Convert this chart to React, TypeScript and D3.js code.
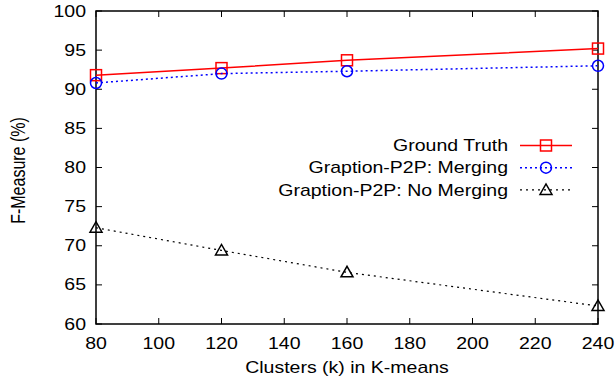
import React, { useEffect, useRef } from 'react';
import * as d3 from 'd3';

const clusters = [80, 120, 160, 240];
const groundTruth = [91.8, 92.7, 93.7, 95.2];
const merging = [90.8, 92.0, 92.3, 93.0];
const noMerging = [72.3, 69.4, 66.6, 62.3];
const xTicks = [80, 100, 120, 140, 160, 180, 200, 220, 240];
const yTicks = [60, 65, 70, 75, 80, 85, 90, 95, 100];

const series = [
  { name: 'Ground Truth', values: groundTruth, color: '#ff0000', dash: null, marker: 'square', width: 1.5 },
  { name: 'Graption-P2P: Merging', values: merging, color: '#0000ff', dash: '2,3', marker: 'circle', width: 1.5 },
  { name: 'Graption-P2P: No Merging', values: noMerging, color: '#000000', dash: '2,4', marker: 'triangle', width: 1.2 },
];

const App = () => {
  const svgRef = useRef<SVGSVGElement>(null);

  useEffect(() => {
    const svg = d3.select(svgRef.current);
    svg.selectAll('*').remove();

    const margin = { top: 11, right: 17, bottom: 54, left: 96 };
    const W = 615, H = 378;
    const width = W - margin.left - margin.right;
    const height = H - margin.top - margin.bottom;
    const font = 'Liberation Sans, Arial, sans-serif';
    const sx = 1.22; // the picture is stretched sideways

    const g = svg.append('g').attr('transform', `translate(${margin.left},${margin.top})`);

    const label = (px: number, py: number, str: string, anchor: string, rot = false) =>
      g.append('text')
        .attr('transform', `translate(${px},${py}) scale(${sx},1)${rot ? ' rotate(-90)' : ''}`)
        .attr('dy', '0.35em').attr('text-anchor', anchor)
        .style('font-family', font).style('font-size', '16px').text(str);

    const x = d3.scaleLinear().domain([80, 240]).range([0, width]);
    const y = d3.scaleLinear().domain([60, 100]).range([height, 0]);

    // frame
    g.append('rect').attr('width', width).attr('height', height)
      .attr('fill', 'none').attr('stroke', '#000').attr('stroke-width', 1.5);

    const tl = 6;
    // inward ticks on all sides
    xTicks.forEach((t) => {
      g.append('line').attr('x1', x(t)).attr('x2', x(t)).attr('y1', height).attr('y2', height - tl).attr('stroke', '#000');
      g.append('line').attr('x1', x(t)).attr('x2', x(t)).attr('y1', 0).attr('y2', tl).attr('stroke', '#000');
      label(x(t), height + 19, String(t), 'middle');
    });
    yTicks.forEach((t) => {
      g.append('line').attr('x1', 0).attr('x2', tl).attr('y1', y(t)).attr('y2', y(t)).attr('stroke', '#000');
      g.append('line').attr('x1', width).attr('x2', width - tl).attr('y1', y(t)).attr('y2', y(t)).attr('stroke', '#000');
      label(-10, y(t), String(t), 'end');
    });

    // axis labels
    label(width / 2, height + 43, 'Clusters (k) in K-means', 'middle');
    label(-78, height / 2 + 3, 'F-Measure (%)', 'middle', true);

    const drawMarker = (sel: any, type: string, cx: number, cy: number, color: string) => {
      if (type === 'square') {
        sel.append('rect').attr('x', cx - 5.5).attr('y', cy - 5.5).attr('width', 11).attr('height', 11)
          .attr('fill', 'none').attr('stroke', color).attr('stroke-width', 1.5);
      } else if (type === 'circle') {
        sel.append('circle').attr('cx', cx).attr('cy', cy).attr('r', 5.5)
          .attr('fill', 'none').attr('stroke', color).attr('stroke-width', 1.5);
      } else {
        sel.append('path').attr('d', `M${cx - 6},${cy + 4.5}L${cx + 6},${cy + 4.5}L${cx},${cy - 6}Z`)
          .attr('fill', 'none').attr('stroke', color).attr('stroke-width', 1.5);
      }
    };

    const line = d3.line<number>().x((d, i) => x(clusters[i])).y((d) => y(d));

    series.forEach((s) => {
      g.append('path').datum(s.values).attr('d', line).attr('fill', 'none')
        .attr('stroke', s.color).attr('stroke-width', s.width)
        .attr('stroke-dasharray', s.dash);
      s.values.forEach((v, i) => drawMarker(g, s.marker, x(clusters[i]), y(v), s.color));
    });

    // legend
    series.forEach((s, i) => {
      const ly = 145.5 + i * 22.2 - margin.top;
      const lx = 508 - margin.left;
      label(lx, ly, s.name, 'end');
      g.append('line').attr('x1', lx + 12).attr('x2', lx + 64).attr('y1', ly).attr('y2', ly)
        .attr('stroke', s.color).attr('stroke-width', s.width).attr('stroke-dasharray', s.dash);
      drawMarker(g, s.marker, lx + 38, ly, s.color);
    });
  }, []);

  return <svg ref={svgRef} width={615} height={378} style={{ position: 'absolute', left: 0, top: 0 }}></svg>;
};

export default App;
